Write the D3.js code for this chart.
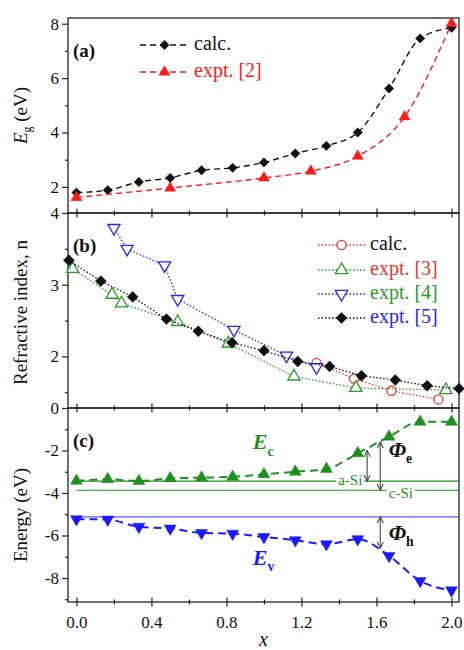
<!DOCTYPE html>
<html>
<head>
<meta charset="utf-8">
<script src="https://cdn.jsdelivr.net/npm/d3@7"></script>
<style>
  html, body { margin: 0; padding: 0; background: #fff; }
  svg { display: block; }
  svg text { font-family: "Liberation Serif", "Times New Roman", "DejaVu Serif", serif; }
</style>
</head>
<body>
<svg id="chart" width="464" height="650"></svg>
<script>
// ---- data ----
// composition grid used by the calculated series
const xGrid = [0, 0.167, 0.333, 0.5, 0.667, 0.833, 1.0, 1.167, 1.333, 1.5, 1.667, 1.833, 2.0];

// (a) band gap
const egCalc = [1.79, 1.88, 2.18, 2.33, 2.61, 2.70, 2.90, 3.23, 3.51, 4.00, 5.62, 7.46, 7.85];
const egExptX = [0, 0.5, 1.0, 1.25, 1.5, 1.75, 2.0];
const egExpt = [1.61, 1.96, 2.33, 2.58, 3.13, 4.58, 8.01];

// (b) refractive index
const nCalcX = [1.28, 1.48, 1.68, 1.93];
const nCalc = [1.91, 1.69, 1.52, 1.40];
const nExpt3X = [-0.02, 0.19, 0.24, 0.54, 0.81, 1.16, 1.49, 1.97];
const nExpt3 = [3.22, 2.86, 2.74, 2.48, 2.18, 1.72, 1.56, 1.53];
const nExpt4X = [0.20, 0.27, 0.47, 0.54, 0.84, 1.12, 1.28];
const nExpt4 = [3.79, 3.50, 3.27, 2.80, 2.37, 2.01, 1.85];
const nExpt5X = [-0.04, 0.13, 0.30, 0.48, 0.65, 0.83, 1.00, 1.18, 1.35, 1.52, 1.70, 1.87, 2.04];
const nExpt5 = [3.34, 3.05, 2.83, 2.52, 2.35, 2.19, 2.08, 1.93, 1.86, 1.73, 1.67, 1.59, 1.55];

// (c) band edges
const ecVals = [-3.43, -3.35, -3.44, -3.31, -3.28, -3.24, -3.12, -3.00, -2.87, -2.13, -1.35, -0.65, -0.65];
const evVals = [-5.23, -5.25, -5.59, -5.67, -5.88, -5.91, -6.07, -6.22, -6.41, -6.17, -6.96, -8.14, -8.58];
const levelNames = ["a-Si", "c-Si", "VB"];
const levelValues = [-3.44, -3.87, -5.12];
const offsetX = [1.55, 1.62, 1.62];
const offsetFrom = [-2.0, -1.6, -5.12];
const offsetTo = [-3.44, -3.87, -6.6];

// tick labels
const xTickLabels = ["0.0", "0.4", "0.8", "1.2", "1.6", "2.0"];
const egTicks = [2, 4, 6, 8];
const nTicks = [2, 3, 4];
const eTicks = [0, -2, -4, -6, -8];

// ---- layout ----
const SERIF = "Liberation Serif, Times New Roman, DejaVu Serif, serif";
const svg = d3.select("#chart").attr("font-family", SERIF);
const L = 68, R = 459;
const panels = {
  a: { top: 18, bottom: 213 },
  b: { top: 213, bottom: 408 },
  c: { top: 408, bottom: 602 }
};
const RED = "#ff1a1a", GREEN = "#1f8f1f", BLUE = "#1a1aff";
const RED_B = "#e8372f", GREEN_B = "#2a9a2a", BLUE_B = "#2727ee";

const x = d3.scaleLinear().domain([-0.045, 2.04]).range([L, R]);
const yA = d3.scaleLinear().domain([1.04, 8.21]).range([panels.a.bottom, panels.a.top]);
const yB = d3.scaleLinear().domain([1.28, 4.0]).range([panels.b.bottom, panels.b.top]);
const yC = d3.scaleLinear().domain([-9.13, 0]).range([panels.c.bottom, panels.c.top]);

const zip = (xs, ys) => xs.map((v, i) => [v, ys[i]]);
const plainInt = d => String(d); // hyphen-minus, as in the printed figure

// square diamond (a square turned by 45 degrees)
const DIAMOND = { type: d3.symbolSquare, rot: 45 };
const UP = { type: d3.symbolTriangle, rot: 0 };
const DOWN = { type: d3.symbolTriangle, rot: 180 };
const CIRCLE = { type: d3.symbolCircle, rot: 0 };

// ---- axes ----
function leftAxis(y, major, minor) {
  const g = svg.append("g").attr("transform", `translate(${L},0)`);
  g.append("g").call(d3.axisLeft(y).tickValues(minor).tickSize(3).tickFormat(""))
    .call(s => s.select(".domain").remove());
  g.append("g").call(d3.axisLeft(y).tickValues(major).tickSize(6).tickPadding(3).tickFormat(plainInt))
    .attr("font-family", SERIF)
    .call(s => s.select(".domain").remove())
    .call(s => s.selectAll("text").attr("font-size", 17).attr("fill", "#111"));
  g.selectAll("line").attr("stroke", "#222").attr("stroke-width", 1.2);
}
leftAxis(yA, egTicks, [3, 5, 7]);
leftAxis(yB, nTicks, [1.5, 2.5, 3.5]);
leftAxis(yC, eTicks, [-1, -3, -5, -7, -9]);

function bottomAxis(yPos, labels) {
  const g = svg.append("g").attr("transform", `translate(0,${yPos})`);
  g.append("g").call(d3.axisBottom(x).tickValues([0.2, 0.6, 1.0, 1.4, 1.8]).tickFormat(""))
    .call(s => s.select(".domain").remove())
    .call(s => s.selectAll("line").attr("y1", -2.5).attr("y2", 2.5));
  const major = g.append("g").call(d3.axisBottom(x).tickValues([0, 0.4, 0.8, 1.2, 1.6, 2.0])
      .tickPadding(8).tickFormat((d, i) => labels ? xTickLabels[i] : ""))
    .attr("font-family", SERIF)
    .call(s => s.select(".domain").remove())
    .call(s => s.selectAll("line").attr("y1", -4.5).attr("y2", 4.5));
  major.selectAll("text").attr("font-size", 17).attr("fill", "#111");
  g.selectAll("line").attr("stroke", "#222").attr("stroke-width", 1.2);
}

// ---- frames ----
Object.values(panels).forEach(p => {
  svg.append("rect").attr("x", L).attr("y", p.top).attr("width", R - L).attr("height", p.bottom - p.top)
    .attr("fill", "none").attr("stroke", "#222").attr("stroke-width", 1.3);
});
bottomAxis(panels.a.bottom, false);
bottomAxis(panels.b.bottom, false);
bottomAxis(panels.c.bottom, true);

// ---- helpers ----
function series(yScale, pts, opts) {
  const line = d3.line().x(d => x(d[0])).y(d => yScale(d[1])).curve(opts.curve || d3.curveLinear);
  svg.append("path").datum(pts).attr("d", line)
    .attr("fill", "none").attr("stroke", opts.color).attr("stroke-width", opts.width)
    .attr("stroke-dasharray", opts.dash);
  const sym = d3.symbol().type(opts.shape.type).size(opts.size);
  svg.append("g").selectAll("path").data(pts).join("path")
    .attr("d", sym)
    .attr("transform", d => `translate(${x(d[0])},${yScale(d[1])}) rotate(${opts.shape.rot})`)
    .attr("fill", opts.open ? "#fff" : opts.color)
    .attr("stroke", opts.color).attr("stroke-width", opts.open ? 1.3 : 0.5);
}

// ---- (a) band gap ----
series(yA, zip(xGrid, egCalc), { color: "#111", width: 1.4, dash: "6,4", shape: DIAMOND, size: 44, curve: d3.curveMonotoneX });
series(yA, zip(egExptX, egExpt), { color: RED, width: 1.4, dash: "6,4", shape: UP, size: 52, curve: d3.curveMonotoneX });

// ---- (b) refractive index ----
series(yB, zip(nCalcX, nCalc), { color: RED_B, width: 1.3, dash: "1.5,2", shape: CIRCLE, size: 65, open: true });
series(yB, zip(nExpt3X, nExpt3), { color: GREEN_B, width: 1.3, dash: "1.5,2", shape: UP, size: 65, open: true });
series(yB, zip(nExpt4X, nExpt4), { color: BLUE_B, width: 1.3, dash: "1.5,2", shape: DOWN, size: 65, open: true });
series(yB, zip(nExpt5X, nExpt5), { color: "#111", width: 1.3, dash: "1.5,2", shape: DIAMOND, size: 60 });

// ---- (c) band edges ----
const levelColors = [GREEN, GREEN, "#5a5aff"];
levelValues.forEach((v, i) => {
  svg.append("line").attr("x1", x(0)).attr("x2", R).attr("y1", yC(v)).attr("y2", yC(v))
    .attr("stroke", levelColors[i]).attr("stroke-width", 1.2);
});
series(yC, zip(xGrid, ecVals), { color: GREEN, width: 2, dash: "8,5", shape: UP, size: 62, curve: d3.curveMonotoneX });
series(yC, zip(xGrid, evVals), { color: BLUE, width: 2, dash: "8,5", shape: DOWN, size: 62, curve: d3.curveMonotoneX });

// level labels with a white gap in the line
function levelLabel(text, xv, yv, dy) {
  const t = svg.append("text").attr("x", x(xv)).attr("y", yC(yv) + dy)
    .attr("text-anchor", "middle").attr("dominant-baseline", "middle")
    .attr("font-size", 15).attr("fill", GREEN).text(text);
  const bb = t.node().getBBox();
  svg.insert("rect", () => t.node()).attr("x", bb.x - 2).attr("y", yC(yv) - 1.5)
    .attr("width", bb.width + 4).attr("height", 3).attr("fill", "#fff");
}
levelLabel(levelNames[0], 1.46, levelValues[0], 0);
levelLabel(levelNames[1], 1.73, levelValues[1], 4);

// offset arrows
const defs = svg.append("defs");
defs.append("marker").attr("id", "arr").attr("viewBox", "0 0 10 10")
  .attr("refX", 9).attr("refY", 5).attr("markerWidth", 7).attr("markerHeight", 7)
  .attr("orient", "auto-start-reverse")
  .append("path").attr("d", "M1,1 L9,5 L1,9").attr("fill", "none").attr("stroke", "#444").attr("stroke-width", 1.4);
offsetX.forEach((xv, i) => {
  svg.append("line").attr("x1", x(xv)).attr("x2", x(xv))
    .attr("y1", yC(offsetFrom[i])).attr("y2", yC(offsetTo[i]))
    .attr("stroke", "#444").attr("stroke-width", 1.1)
    .attr("marker-start", "url(#arr)").attr("marker-end", "url(#arr)");
});

// symbol labels
function subLabel(xp, yp, main, sub, color, size) {
  const t = svg.append("text").attr("x", xp).attr("y", yp).attr("fill", color)
    .attr("font-weight", "bold").attr("font-size", size);
  t.append("tspan").attr("font-style", "italic").text(main);
  t.append("tspan").attr("font-size", size * 0.62).attr("dy", size * 0.28).text(sub);
}
subLabel(x(1.665), yC(-2.3), "\u03A6", "e", "#111", 22);
subLabel(x(1.665), yC(-6.2), "\u03A6", "h", "#111", 22);
subLabel(x(0.94), yC(-1.95), "E", "c", GREEN, 22);
subLabel(x(0.94), yC(-7.4), "E", "v", BLUE, 22);

// ---- panel tags ----
[["(a)", panels.a], ["(b)", panels.b], ["(c)", panels.c]].forEach(([t, p]) => {
  svg.append("text").attr("x", 73).attr("y", p.top + 39).attr("font-size", 19)
    .attr("font-weight", "bold").attr("fill", "#111").text(t);
});

// ---- legends ----
function legend(items) {
  items.forEach(it => {
    const g = svg.append("g").attr("transform", `translate(0,${it.y})`);
    g.append("line").attr("x1", it.x0).attr("x2", it.x1).attr("stroke", it.color)
      .attr("stroke-width", it.width).attr("stroke-dasharray", it.dash);
    g.append("path").attr("d", d3.symbol().type(it.shape.type).size(it.size))
      .attr("transform", `translate(${(it.x0 + it.x1) / 2},0) rotate(${it.shape.rot})`)
      .attr("fill", it.open ? "#fff" : it.color).attr("stroke", it.color).attr("stroke-width", it.open ? 1.3 : 0.5);
    g.append("text").attr("x", it.x1 + 5).attr("dominant-baseline", "middle")
      .attr("font-size", 20).attr("fill", it.textColor).text(it.label);
  });
}
legend([
  { y: 45, x0: 140, x1: 189, color: "#111", width: 1.4, dash: "6,4", shape: DIAMOND, size: 44, label: "calc.", textColor: "#111" },
  { y: 72, x0: 140, x1: 189, color: RED, width: 1.4, dash: "6,4", shape: UP, size: 52, label: "expt. [2]", textColor: RED }
]);
legend([
  { y: 245, x0: 318, x1: 365, color: RED_B, width: 1.3, dash: "1.5,2", shape: CIRCLE, size: 65, open: true, label: "calc.", textColor: "#111" },
  { y: 270, x0: 318, x1: 365, color: GREEN_B, width: 1.3, dash: "1.5,2", shape: UP, size: 65, open: true, label: "expt. [3]", textColor: RED_B },
  { y: 294, x0: 318, x1: 365, color: BLUE_B, width: 1.3, dash: "1.5,2", shape: DOWN, size: 65, open: true, label: "expt. [4]", textColor: GREEN_B },
  { y: 318, x0: 318, x1: 365, color: "#111", width: 1.3, dash: "1.5,2", shape: DIAMOND, size: 60, label: "expt. [5]", textColor: BLUE_B }
]);

// ---- axis titles ----
const tA = svg.append("text").attr("transform", `translate(27,${(panels.a.top + panels.a.bottom) / 2}) rotate(-90)`)
  .attr("text-anchor", "middle").attr("font-size", 19).attr("fill", "#111");
tA.append("tspan").attr("font-style", "italic").text("E");
tA.append("tspan").attr("font-size", 12).attr("dy", 4).text("g");
tA.append("tspan").attr("dy", -4).text(" (eV)");
svg.append("text").attr("transform", `translate(27,${(panels.b.top + panels.b.bottom) / 2 + 2}) rotate(-90)`)
  .attr("text-anchor", "middle").attr("font-size", 19).attr("fill", "#111").text("Refractive index, n");
svg.append("text").attr("transform", `translate(27,${(panels.c.top + panels.c.bottom) / 2 + 10}) rotate(-90)`)
  .attr("text-anchor", "middle").attr("font-size", 19).attr("fill", "#111").text("Energy (eV)");
svg.append("text").attr("x", (L + R) / 2).attr("y", 646).attr("text-anchor", "middle")
  .attr("font-size", 20).attr("font-style", "italic").attr("fill", "#111").text("x");
</script>
</body>
</html>
